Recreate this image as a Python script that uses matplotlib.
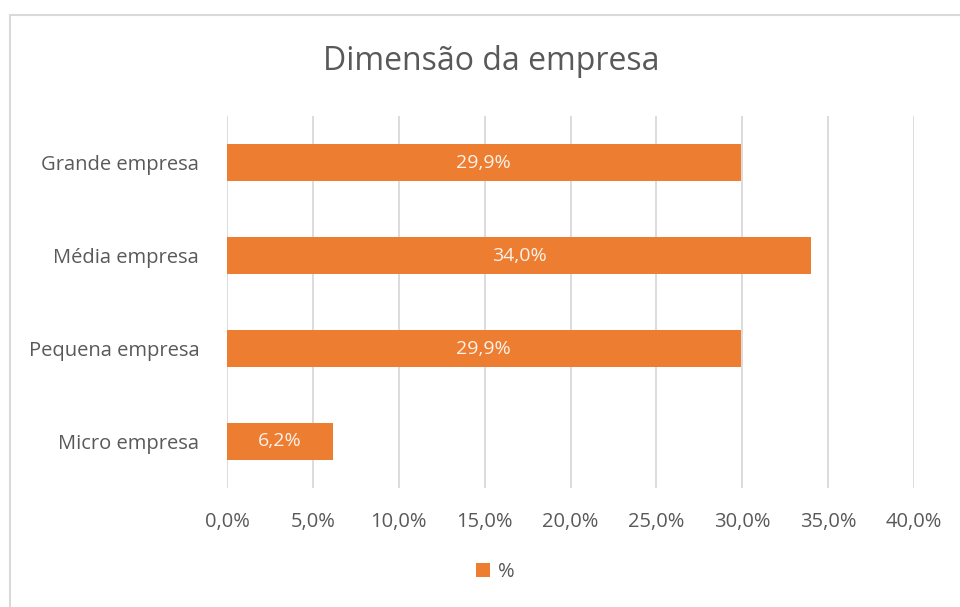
import matplotlib
matplotlib.use("Agg")
import matplotlib.pyplot as plt
from matplotlib.patches import Rectangle, Patch

categories = ["Micro empresa", "Pequena empresa", "Média empresa", "Grande empresa"]
values = [6.2, 29.9, 34.0, 29.9]
xticks = [0, 5, 10, 15, 20, 25, 30, 35, 40]
title = "Dimensão da empresa"
series_name = "%"

ORANGE = "#ED7D31"
TEXT = "#595959"
GRID = "#D9D9D9"
FONT = ["Open Sans", "DejaVu Sans"]

plt.rcParams["font.family"] = FONT

W, H = 960, 607
fig = plt.figure(figsize=(W / 100, H / 100), dpi=100)
fig.patch.set_facecolor("white")

# chart frame (only top and left edges fall inside the image)
fig.patches.append(Rectangle((10 / W, -0.1), 1.2, 1 - 15 / H + 0.1,
                             transform=fig.transFigure, fill=False,
                             edgecolor=GRID, linewidth=1.5))

left, right = 227 / W, 914 / W
top, bottom = 1 - 116 / H, 1 - 488 / H
ax = fig.add_axes([left, bottom, right - left, top - bottom])

y = range(len(categories))
bars = ax.barh(y, values, height=0.4, color=ORANGE, zorder=3)
for b, v in zip(bars, values):
    ax.text(b.get_width() / 2, b.get_y() + b.get_height() / 2,
            f"{v:.1f}%".replace(".", ","), ha="center", va="center",
            color="#FDF2EA", fontsize=14, zorder=4)

ax.set_xlim(0, 40)
ax.set_ylim(-0.5, len(categories) - 0.5)
ax.set_xticks(xticks)
ax.set_xticklabels([f"{t:.1f}%".replace(".", ",") for t in xticks])
ax.set_yticks(list(y))
ax.set_yticklabels(categories)
ax.grid(axis="x", color=GRID, linewidth=1.3, zorder=0)
for s in ax.spines.values():
    s.set_visible(False)
ax.tick_params(axis="both", length=0, colors=TEXT, labelsize=14.5)
ax.tick_params(axis="x", pad=17)
ax.tick_params(axis="y", pad=20)

fig.text(491 / W, 1 - 61 / H, title, ha="center", va="center",
         fontsize=23, color=TEXT)

leg = fig.legend(handles=[Patch(facecolor=ORANGE, label=series_name)],
                 loc="center", bbox_to_anchor=(495 / W, 1 - 572 / H),
                 frameon=False, fontsize=14.5, handlelength=0.7,
                 handleheight=0.7, handletextpad=0.4)
for t in leg.get_texts():
    t.set_color(TEXT)

fig.savefig("out.png", dpi=100, facecolor="white")
